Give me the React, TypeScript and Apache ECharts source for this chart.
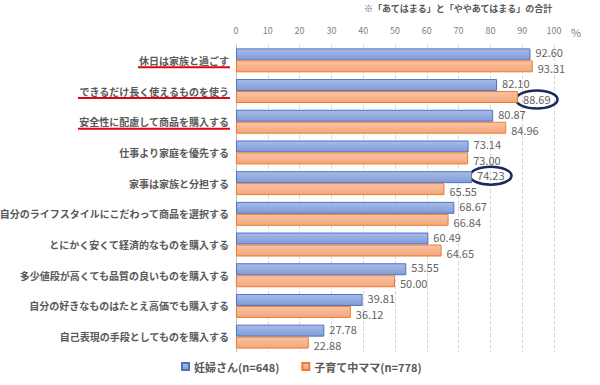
import React, { useEffect, useRef } from "react";
import * as echarts from "echarts";

const categories = [
  "休日は家族と過ごす",
  "できるだけ長く使えるものを使う",
  "安全性に配慮して商品を購入する",
  "仕事より家庭を優先する",
  "家事は家族と分担する",
  "自分のライフスタイルにこだわって商品を選択する",
  "とにかく安くて経済的なものを購入する",
  "多少値段が高くても品質の良いものを購入する",
  "自分の好きなものはたとえ高価でも購入する",
  "自己表現の手段としてものを購入する",
];
const pregnant = [92.6, 82.1, 80.87, 73.14, 74.23, 68.67, 60.49, 53.55, 39.81, 27.78];
const mothers = [93.31, 88.69, 84.96, 73.0, 65.55, 66.84, 64.65, 50.0, 36.12, 22.88];
const seriesNames = ["妊婦さん(n=648)", "子育て中ママ(n=778)"];
const underlined = [0, 1, 2];
const circled = [
  { series: 1, index: 1 },
  { series: 0, index: 4 },
];
const note = "※「あてはまる」と「ややあてはまる」の合計";

const FONT = "'Noto Sans CJK JP', 'Noto Sans', sans-serif";
const VAL_SIZE = 11;

function measure(text: string, font: string) {
  const c = document.createElement("canvas").getContext("2d")!;
  c.font = font;
  return c.measureText(text).width;
}

export default function App() {
  const ref = useRef<HTMLDivElement>(null);
  useEffect(() => {
    const chart = echarts.init(ref.current!, null, { renderer: "svg" });
    const grad = (a: string, b: string) =>
      new echarts.graphic.LinearGradient(0, 0, 0, 1, [
        { offset: 0, color: a },
        { offset: 1, color: b },
      ]);
    const labelCfg = (dy: number) => ({
      show: true,
      position: "right" as const,
      distance: 5,
      offset: [0, dy],
      color: "#636363",
      fontSize: VAL_SIZE,
      lineHeight: 11,
      fontFamily: FONT,
      formatter: (p: any) => Number(p.value).toFixed(2),
    });
    chart.setOption({
      animation: false,
      textStyle: { fontFamily: FONT },
      grid: { left: 236, right: 46, top: 45, bottom: 33, outerBoundsMode: "none", containLabel: false },
      legend: {
        left: 176,
        top: 356,
        icon: "rect",
        itemWidth: 7,
        itemHeight: 7,
        itemGap: 22,
        textStyle: { fontSize: 11, fontWeight: "bold", color: "#595959", fontFamily: FONT },
        data: seriesNames,
      },
      xAxis: {
        type: "value",
        position: "top",
        min: 0,
        max: 100,
        interval: 10,
        axisLine: { show: false },
        axisTick: { show: false },
        axisLabel: { color: "#808080", fontSize: 9, margin: 10 },
        splitLine: { show: true, lineStyle: { color: "#d9d9d9", type: "dashed", width: 1 } },
      },
      yAxis: {
        type: "category",
        inverse: true,
        data: categories,
        axisLine: { show: true, lineStyle: { color: "#bfbfbf" } },
        axisTick: { show: false },
        axisLabel: { color: "#595959", fontSize: 10, fontWeight: "bold", margin: 7 },
      },
      series: [
        {
          name: seriesNames[0],
          type: "bar",
          data: pregnant,
          barGap: "0%",
          barCategoryGap: "22%",
          itemStyle: { color: grad("#a9bce8", "#7f9bd6"), borderColor: "#4f72c0", borderWidth: 1 },
          label: labelCfg(-2),
        },
        {
          name: seriesNames[1],
          type: "bar",
          data: mothers,
          barGap: "0%",
          barCategoryGap: "22%",
          itemStyle: { color: grad("#f9c4a6", "#f3a679"), borderColor: "#ed7d31", borderWidth: 1 },
          label: labelCfg(2),
        },
      ],
    });

    const labelFont = `bold 10px ${FONT}`;
    const valFont = `${VAL_SIZE}px ${FONT}`;
    const graphics: any[] = [
      {
        type: "text",
        right: 47,
        top: 4,
        style: { text: note, fontSize: 9, fontWeight: "bold", fill: "#595959", fontFamily: FONT },
      },
      {
        type: "text",
        left: 571,
        top: 26,
        style: { text: "%", fontSize: 11, fill: "#808080", fontFamily: FONT },
      },
    ];
    const axisX = chart.convertToPixel({ xAxisIndex: 0 }, 0) as number;
    underlined.forEach((i) => {
      const cy = chart.convertToPixel({ yAxisIndex: 0 }, i) as number;
      const w = measure(categories[i], labelFont);
      const x2 = axisX - 7;
      graphics.push({
        type: "line",
        shape: { x1: x2 - w - 1, y1: cy + 7, x2: x2 + 1, y2: cy + 7 },
        style: { stroke: "#e60012", lineWidth: 2 },
      });
    });
    circled.forEach(({ series, index }) => {
      const v = (series === 0 ? pregnant : mothers)[index];
      const cy = chart.convertToPixel({ yAxisIndex: 0 }, index) as number;
      const bx = chart.convertToPixel({ xAxisIndex: 0 }, v) as number;
      const w = measure(v.toFixed(2), valFont);
      const yOff = series === 0 ? -8 : 8;
      graphics.push({
        type: "ellipse",
        shape: { cx: bx + 5 + w / 2, cy: cy + yOff + 0.5, rx: w / 2 + 7, ry: 9 },
        style: { fill: "none", stroke: "#1a2a5c", lineWidth: 2.5 },
      });
    });
    chart.setOption({ graphic: graphics });
    return () => chart.dispose();
  }, []);
  return (
    <div
      ref={ref}
      style={{ position: "fixed", left: 0, top: 0, width: 600, height: 385, background: "#fff" }}
    />
  );
}
